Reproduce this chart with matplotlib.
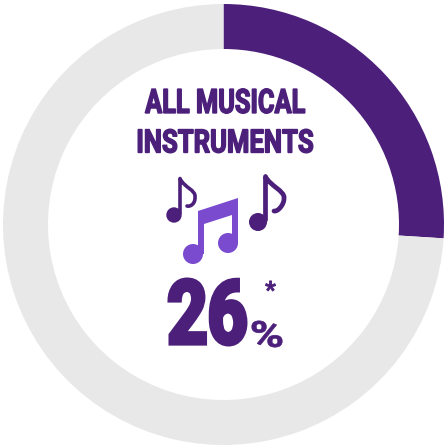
import matplotlib
matplotlib.use("Agg")
import matplotlib.pyplot as plt
from matplotlib.patches import PathPatch, Circle, Polygon
from matplotlib.path import Path
from matplotlib.transforms import Affine2D
from matplotlib.textpath import TextPath
from matplotlib.font_manager import FontProperties

values = [26, 74]
colors = ["#4b1f7a", "#e8e8e8"]
title_lines = ["ALL MUSICAL", "INSTRUMENTS"]
pct_text = "26"
purple = "#4b1f7a"
light = "#7a4bcf"

fig = plt.figure(figsize=(4.48, 4.48), dpi=100)
ax = fig.add_axes([0, 0, 1, 1])
ax.set_xlim(0, 448); ax.set_ylim(448, 0); ax.axis("off")

pie_ax = fig.add_axes([3/448, 1-445/448, 441/448, 441/448])
pie_ax.pie(values, colors=colors, startangle=90, counterclock=False, radius=1,
           wedgeprops=dict(width=45/220.5))
pie_ax.set_xlim(-1, 1); pie_ax.set_ylim(-1, 1)
pie_ax.set_zorder(0); ax.set_zorder(1); ax.patch.set_alpha(0)

fp = FontProperties(family="Roboto", weight="bold")
def txt_patch(s, cx, cy, h, w, stroke=0.0, color=purple):
    tp = TextPath((0, 0), s, size=100, prop=fp)
    bb = tp.get_extents()
    pad = stroke * 100 / 72 / 2
    tr = (Affine2D().translate(-bb.x0 - bb.width/2, -bb.y0 - bb.height/2)
          .scale((w - 2*pad)/bb.width, -(h - 2*pad)/bb.height).translate(cx, cy))
    ax.add_patch(PathPatch(tp.transformed(tr), fc=color, ec=color if stroke else "none",
                           lw=stroke, joinstyle="miter"))

txt_patch(title_lines[0], 225, 101, 26, 161, stroke=1.0)
txt_patch(title_lines[1], 225.5, 141, 25, 176, stroke=1.0)
txt_patch(pct_text, 207.5, 312, 69, 80, stroke=3.2)
txt_patch("%", 267, 334, 27, 31, stroke=0.5)
txt_patch("*", 270.5, 286, 11, 11, stroke=0.6)

def note(hx, hy, r, stem_x, top_y, tip, end, lw):
    ax.add_patch(Circle((hx, hy), r, fc=purple, ec="none"))
    verts = [(stem_x, hy - 2), (stem_x, top_y),
             (stem_x + 4, top_y + 9), (tip[0] + 1, tip[1] - 7), tip,
             (tip[0] + 0.5, tip[1] + 6), (end[0] + 4, end[1] + 1), end]
    codes = [Path.MOVETO, Path.LINETO, Path.CURVE4, Path.CURVE4, Path.CURVE4,
             Path.CURVE4, Path.CURVE4, Path.CURVE4]
    ax.add_patch(PathPatch(Path(verts, codes), fc="none", ec=purple, lw=lw,
                           capstyle="round", joinstyle="round"))
note(174, 215, 7.7, 180, 178.5, (195, 197), (187, 206), 2.6)
note(258, 222, 9.0, 265.5, 176.5, (284, 198), (274, 211), 3.4)

ax.add_patch(Circle((193, 254), 10, fc=light, ec="none"))
ax.add_patch(Circle((228, 243), 10, fc=light, ec="none"))
ax.add_patch(Polygon([(198, 211), (238, 198), (238, 243), (232, 243), (232, 215),
                      (204, 224), (204, 254), (198, 254)], fc=light, ec="none"))
fig.savefig("out.png", dpi=100)
